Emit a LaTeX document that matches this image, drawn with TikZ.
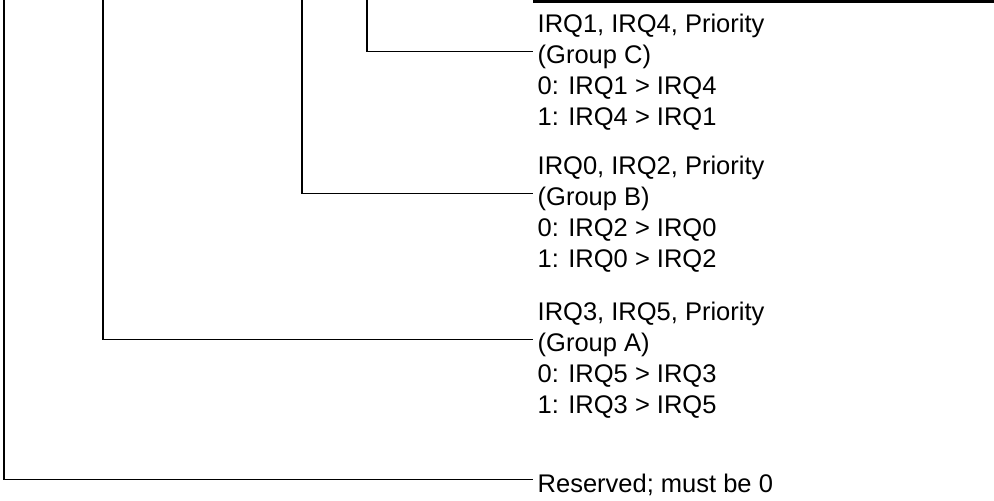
\documentclass[tikz,border=0pt]{standalone}
\usepackage{fontspec}
\setmainfont{Liberation Sans}

\begin{document}
\begin{tikzpicture}[x=1pt, y=-1pt, every node/.style={font=\fontsize{25.5}{31}\selectfont, anchor=base west, inner xsep=4.5pt, inner ysep=0pt}, conn/.style={line width=1.3pt}, rule/.style={line width=2.7pt}]
	\useasboundingbox (0,0) rectangle (994,501);
	% bit descriptions
	\foreach \n/\y/\t in {c1/32/{IRQ1, IRQ4, Priority}, gC/63/{(Group C)}, c3/94/{0: IRQ1 > IRQ4}, c4/125/{1: IRQ4 > IRQ1}, b1/174/{IRQ0, IRQ2, Priority}, gB/205/{(Group B)}, b3/236/{0: IRQ2 > IRQ0}, b4/267/{1: IRQ0 > IRQ2}, a1/320/{IRQ3, IRQ5, Priority}, gA/351/{(Group A)}, a3/382/{0: IRQ5 > IRQ3}, a4/413/{1: IRQ3 > IRQ5}, rsv/492/{Reserved; must be 0}} {
		\node (\n) at (533,\y) {\t};
	}
	% bit lines
	\foreach \c/\x in {rsv/4, gA/103, gB/302, gC/367} {\coordinate (top\c) at (\x,0); \draw[conn] (top\c) |- ([yshift=5pt]\c.west);}
	\coordinate (ruleL) at (533,1.5);
	\coordinate (ruleR) at (994,1.5);
	\draw[rule] (ruleL) -- (ruleR);
\end{tikzpicture}
\end{document}
